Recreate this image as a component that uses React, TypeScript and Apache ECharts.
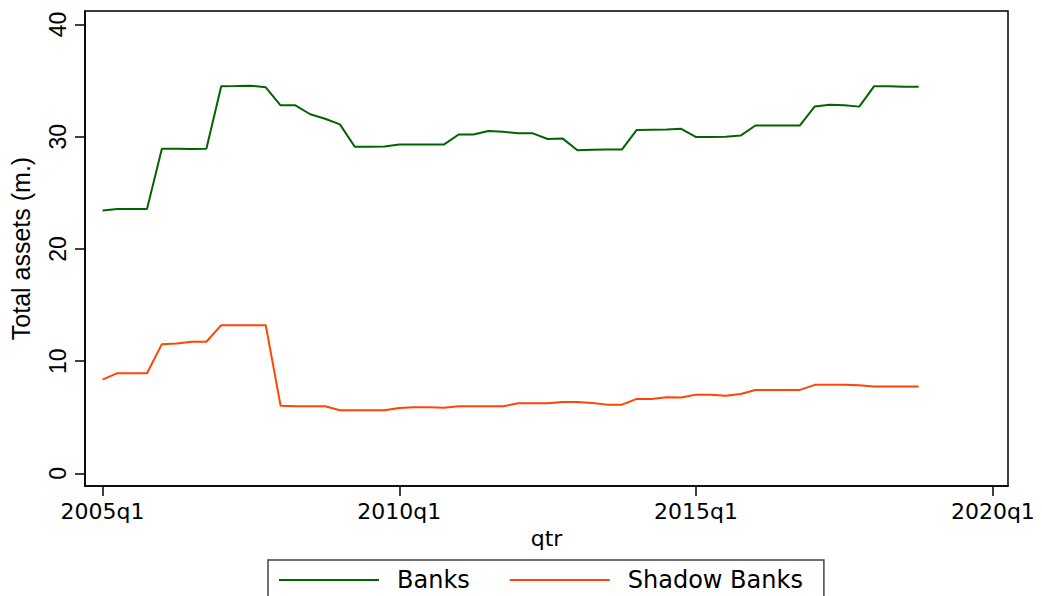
import React, { useEffect, useRef } from "react";
import * as echarts from "echarts";

// Quarterly observations, 2005q1 .. 2018q4 (index 0 = 2005q1)
const banks: number[] = [
  23.42, 23.55, 23.55, 23.57, 28.93, 28.93, 28.9, 28.93, 34.5, 34.52,
  34.55, 34.4, 32.8, 32.8, 32.0, 31.6, 31.1, 29.1, 29.1, 29.12,
  29.3, 29.3, 29.3, 29.3, 30.2, 30.2, 30.5, 30.45, 30.3, 30.3,
  29.8, 29.85, 28.8, 28.83, 28.85, 28.85, 30.6, 30.63, 30.65, 30.7,
  29.97, 29.97, 30.0, 30.1, 31.0, 31.0, 31.0, 31.0, 32.7, 32.85,
  32.8, 32.68, 34.5, 34.5, 34.45, 34.45,
];
const shadowBanks: number[] = [
  8.36, 8.93, 8.93, 8.93, 11.52, 11.58, 11.73, 11.73, 13.21, 13.21,
  13.21, 13.21, 6.04, 5.98, 5.98, 5.98, 5.63, 5.63, 5.63, 5.63,
  5.83, 5.89, 5.89, 5.86, 5.98, 5.98, 5.98, 5.98, 6.25, 6.25,
  6.25, 6.37, 6.37, 6.28, 6.13, 6.13, 6.64, 6.64, 6.79, 6.76,
  7.02, 7.02, 6.93, 7.08, 7.44, 7.44, 7.44, 7.44, 7.89, 7.89,
  7.89, 7.86, 7.74, 7.74, 7.74, 7.74,
];
const startYear = 2005;
const xTickPositions: number[] = [0, 20, 40, 60];
const xTickLabels: string[] = ["2005q1", "2010q1", "2015q1", "2020q1"];
const yTickValues: number[] = [0, 10, 20, 30, 40];
const seriesNames: string[] = ["Banks", "Shadow Banks"];
const seriesColors: string[] = ["#006400", "#ff4500"];

const quarterLabel = (i: number) => {
  const idx = xTickPositions.indexOf(i);
  if (idx >= 0) return xTickLabels[idx];
  return `${startYear + Math.floor(i / 4)}q${(i % 4) + 1}`;
};

export default function App() {
  const ref = useRef<HTMLDivElement>(null);
  useEffect(() => {
    if (!ref.current) return;
    const chart = echarts.init(ref.current, undefined, { renderer: "svg" });
    const hFont = "DejaVu Sans";
    const vFont = "Liberation Sans";
    const option: any = {
      animation: false,
      backgroundColor: "#fff",
      grid: {
        left: 83,
        right: 34,
        top: 11,
        bottom: 110,
        show: true,
        borderColor: "#000",
        borderWidth: 1.5,
        backgroundColor: "#fff",
      },
      legend: {
        left: 268,
        top: 560,
        orient: "horizontal",
        icon: "rect",
        itemWidth: 100,
        itemHeight: 2,
        itemGap: 40,
        borderColor: "#444",
        borderWidth: 1.5,
        padding: [8, 21, 14, 11],
        textStyle: {
          fontFamily: hFont,
          fontSize: 24,
          color: "#000",
          padding: [0, 0, 0, 13],
        },
        data: seriesNames,
      },
      xAxis: {
        type: "value",
        min: -1.18,
        max: 61.02,
        name: "qtr",
        nameLocation: "middle",
        nameGap: 41,
        nameTextStyle: { fontFamily: hFont, fontSize: 22, color: "#000" },
        axisLine: { show: true, onZero: false, lineStyle: { color: "#000", width: 1.5 } },
        axisTick: {
          show: true,
          length: 10,
          customValues: xTickPositions,
          lineStyle: { color: "#000", width: 1.5 },
        },
        axisLabel: {
          customValues: xTickPositions,
          formatter: (v: number) => quarterLabel(Math.round(v)),
          fontFamily: hFont,
          fontSize: 22,
          color: "#000",
          margin: 14,
        },
        splitLine: { show: false },
      },
      yAxis: {
        type: "value",
        min: -1.12,
        max: 41.2,
        name: "Total assets (m.)",
        nameLocation: "middle",
        nameGap: 52,
        nameTextStyle: { fontFamily: vFont, fontSize: 25, color: "#000" },
        axisLine: { show: true, onZero: false, lineStyle: { color: "#000", width: 1.5 } },
        axisTick: {
          show: true,
          length: 10,
          customValues: yTickValues,
          lineStyle: { color: "#000", width: 1.5 },
        },
        axisLabel: {
          customValues: yTickValues,
          rotate: 90,
          fontFamily: vFont,
          fontSize: 23,
          color: "#000",
          margin: 16,
        },
        splitLine: { show: false },
      },
      series: [
        {
          name: seriesNames[0],
          type: "line",
          data: banks.map((v, i) => [i, v]),
          symbol: "none",
          lineStyle: { color: seriesColors[0], width: 2 },
          itemStyle: { color: seriesColors[0] },
        },
        {
          name: seriesNames[1],
          type: "line",
          data: shadowBanks.map((v, i) => [i, v]),
          symbol: "none",
          lineStyle: { color: seriesColors[1], width: 2 },
          itemStyle: { color: seriesColors[1] },
        },
      ],
    };
    chart.setOption(option);
    return () => chart.dispose();
  }, []);
  return (
    <div
      ref={ref}
      style={{ position: "absolute", left: 0, top: 0, width: 1042, height: 596, background: "#fff" }}
    />
  );
}
